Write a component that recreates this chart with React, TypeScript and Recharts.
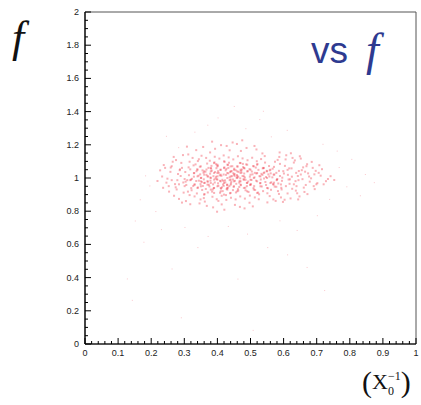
import { ScatterChart, Scatter, XAxis, YAxis, ReferenceArea } from 'recharts'

// X0^-1 (x) vs f (y), hits in the dense core
const coreHits: [number, number][] = [
  [0.41, 1.02], [0.38, 0.97], [0.45, 1.05], [0.5, 0.99], [0.43, 0.93], [0.36, 1.04], [0.47, 0.96], [0.52, 1.03], [0.4, 1.08], [0.44, 0.99],
  [0.39, 0.91], [0.48, 1.01], [0.35, 0.98], [0.53, 0.95], [0.42, 1.06], [0.46, 0.92], [0.37, 1.01], [0.51, 1.07], [0.34, 0.94], [0.49, 1.04],
  [0.43, 1.0], [0.4, 0.95], [0.55, 1.0], [0.33, 1.03], [0.47, 1.09], [0.38, 1.06], [0.52, 0.91], [0.44, 0.96], [0.41, 0.98], [0.36, 0.9],
  [0.56, 0.97], [0.45, 1.02], [0.39, 1.03], [0.48, 0.94], [0.42, 0.9], [0.5, 1.05], [0.35, 1.07], [0.46, 1.0], [0.54, 1.06], [0.37, 0.96],
  [0.43, 1.08], [0.4, 1.01], [0.57, 1.02], [0.32, 0.99], [0.49, 0.97], [0.44, 1.04], [0.51, 0.93], [0.38, 0.93], [0.46, 1.07], [0.41, 0.94],
  [0.53, 1.01], [0.35, 0.95], [0.47, 1.03], [0.42, 0.97], [0.39, 1.09], [0.55, 0.94], [0.44, 0.91], [0.48, 1.06], [0.36, 1.02], [0.5, 0.96],
  [0.43, 1.03], [0.4, 0.99], [0.52, 1.08], [0.34, 1.05], [0.45, 0.95], [0.58, 0.99], [0.38, 1.0], [0.47, 0.98], [0.41, 1.05], [0.49, 0.92],
  [0.37, 0.98], [0.54, 1.03], [0.43, 0.96], [0.46, 1.04], [0.33, 0.96], [0.51, 1.0], [0.4, 1.07], [0.44, 1.01], [0.56, 1.05], [0.39, 0.94],
  [0.48, 0.99], [0.42, 1.1], [0.35, 1.0], [0.53, 0.97], [0.45, 0.98], [0.38, 1.04], [0.5, 1.02], [0.41, 0.92], [0.47, 1.05], [0.36, 0.97],
  [0.44, 1.07], [0.52, 0.98], [0.4, 1.03], [0.57, 0.96], [0.34, 1.01], [0.49, 1.08], [0.43, 0.94], [0.46, 1.01], [0.39, 0.99], [0.55, 1.04],
  [0.412, 1.013], [0.387, 0.962], [0.455, 1.047], [0.503, 0.988], [0.428, 0.934], [0.364, 1.038], [0.471, 0.957], [0.518, 1.027], [0.396, 1.083], [0.447, 0.991],
  [0.384, 0.918], [0.476, 1.012], [0.353, 0.976], [0.534, 0.949], [0.421, 1.064], [0.463, 0.924], [0.372, 1.009], [0.508, 1.072], [0.341, 0.943], [0.492, 1.041],
  [0.437, 1.004], [0.403, 0.953], [0.547, 1.006], [0.329, 1.029], [0.468, 1.091], [0.381, 1.057], [0.523, 0.912], [0.441, 0.967], [0.418, 0.982], [0.361, 0.903],
  [0.563, 0.974], [0.452, 1.024], [0.393, 1.036], [0.484, 0.941], [0.426, 0.897], [0.497, 1.053], [0.347, 1.068], [0.458, 1.002], [0.539, 1.061], [0.374, 0.959],
  [0.432, 1.079], [0.407, 1.016], [0.572, 1.021], [0.318, 0.987], [0.489, 0.971], [0.443, 1.042], [0.514, 0.928], [0.386, 0.931], [0.461, 1.069], [0.414, 0.944],
  [0.527, 1.011], [0.356, 0.952], [0.473, 1.033], [0.424, 0.973], [0.391, 1.094], [0.553, 0.938], [0.438, 0.908], [0.482, 1.058], [0.367, 1.019], [0.501, 0.963],
  [0.433, 1.028], [0.398, 0.993], [0.521, 1.084], [0.339, 1.052], [0.449, 0.947], [0.581, 0.994], [0.379, 1.003], [0.467, 0.981], [0.409, 1.049], [0.494, 0.916],
  [0.371, 0.978], [0.542, 1.034], [0.429, 0.958], [0.464, 1.037], [0.332, 0.961], [0.512, 1.004], [0.401, 1.074], [0.444, 1.011], [0.558, 1.046], [0.389, 0.939],
  [0.479, 0.992], [0.422, 1.098], [0.351, 1.001], [0.529, 0.968], [0.453, 0.983], [0.383, 1.044], [0.506, 1.022], [0.416, 0.921], [0.474, 1.051], [0.362, 0.971],
  [0.445, 1.071], [0.517, 0.984], [0.404, 1.031], [0.568, 0.963], [0.343, 1.014], [0.487, 1.082], [0.431, 0.942], [0.459, 1.018], [0.394, 0.997], [0.549, 1.043],
  [0.415, 0.989], [0.378, 1.026], [0.462, 0.933], [0.498, 1.008], [0.427, 1.055], [0.354, 0.928], [0.536, 1.019], [0.442, 0.977], [0.369, 1.087], [0.511, 0.951],
  [0.402, 0.968], [0.478, 1.066], [0.337, 1.041], [0.456, 0.913], [0.524, 1.049], [0.388, 1.011], [0.435, 1.092], [0.493, 0.979], [0.411, 0.936], [0.557, 1.009],
  [0.376, 0.949], [0.448, 1.029], [0.516, 1.063], [0.423, 0.986], [0.358, 1.032], [0.485, 0.926], [0.397, 1.059], [0.531, 0.991], [0.451, 1.056], [0.408, 0.911],
  [0.469, 0.998], [0.344, 0.984], [0.504, 1.039], [0.436, 0.951], [0.382, 1.073], [0.545, 0.976], [0.419, 1.021], [0.477, 1.085], [0.365, 0.934], [0.499, 0.958],
  [0.439, 1.036], [0.392, 0.973], [0.533, 1.025], [0.457, 0.965], [0.373, 1.061], [0.509, 0.939], [0.425, 1.046], [0.483, 1.003], [0.348, 1.022], [0.466, 0.946],
]

// hits on the shoulders of the core
const shoulderHits: [number, number][] = [
  [0.262, 1.071], [0.274, 0.944], [0.289, 1.012], [0.297, 0.973], [0.303, 1.036], [0.311, 0.918], [0.316, 1.098], [0.323, 0.995], [0.327, 0.952], [0.334, 1.082],
  [0.338, 0.907], [0.344, 1.113], [0.349, 0.963], [0.355, 1.046], [0.359, 0.879], [0.366, 1.121], [0.371, 0.913], [0.377, 1.104], [0.385, 0.887], [0.392, 1.128],
  [0.398, 0.872], [0.406, 1.117], [0.413, 0.893], [0.419, 1.136], [0.427, 0.868], [0.434, 1.124], [0.441, 0.881], [0.448, 1.112], [0.455, 0.871], [0.462, 1.131],
  [0.469, 0.889], [0.476, 1.118], [0.483, 0.876], [0.491, 1.107], [0.498, 0.894], [0.505, 1.122], [0.513, 0.883], [0.519, 1.101], [0.526, 0.902], [0.532, 1.114],
  [0.538, 0.921], [0.544, 1.093], [0.551, 0.908], [0.556, 1.072], [0.562, 0.929], [0.567, 1.056], [0.573, 0.948], [0.578, 1.031], [0.584, 0.967], [0.589, 1.012],
  [0.595, 0.983], [0.601, 1.027], [0.607, 0.951], [0.612, 1.049], [0.619, 0.992], [0.625, 1.008], [0.631, 0.962], [0.638, 1.031], [0.645, 0.987], [0.652, 1.021],
  [0.579, 0.987], [0.566, 1.004], [0.571, 0.972], [0.561, 1.028], [0.586, 1.043], [0.593, 0.941], [0.547, 0.958], [0.554, 1.022], [0.541, 0.997], [0.537, 1.058],
  [0.293, 1.061], [0.306, 0.958], [0.314, 1.017], [0.321, 0.939], [0.329, 1.008], [0.336, 0.982], [0.301, 0.994], [0.284, 0.962], [0.318, 1.052], [0.309, 0.987],
  [0.419, 0.953], [0.437, 0.987], [0.452, 1.013], [0.466, 0.972], [0.481, 1.027], [0.396, 1.007], [0.408, 0.983], [0.426, 1.019], [0.471, 1.043], [0.489, 0.951],
  [0.402, 1.041], [0.417, 0.961], [0.433, 1.061], [0.447, 0.927], [0.463, 1.008], [0.485, 0.989], [0.379, 0.984], [0.367, 1.051], [0.359, 0.992], [0.513, 1.031],
]

// looser hits around the core
const haloHits: [number, number][] = [
  [0.262, 0.987], [0.287, 1.052], [0.618, 0.965], [0.643, 1.012], [0.298, 0.912], [0.604, 1.073], [0.275, 1.108], [0.661, 0.942], [0.312, 1.142], [0.592, 0.883],
  [0.253, 0.951], [0.683, 0.998], [0.305, 0.861], [0.627, 1.121], [0.281, 1.024], [0.655, 1.047], [0.318, 0.842], [0.588, 1.154], [0.242, 1.061], [0.702, 0.969],
  [0.336, 1.168], [0.612, 0.907], [0.269, 0.893], [0.674, 1.028], [0.325, 1.121], [0.598, 0.856], [0.233, 1.009], [0.691, 0.951], [0.357, 1.187], [0.637, 0.924],
  [0.291, 1.091], [0.669, 1.071], [0.346, 0.847], [0.582, 1.109], [0.258, 1.037], [0.712, 1.014], [0.368, 0.832], [0.624, 1.058], [0.304, 0.978], [0.648, 0.889],
  [0.393, 1.176], [0.576, 0.862], [0.277, 0.931], [0.697, 1.043], [0.413, 0.841], [0.608, 1.137], [0.246, 0.972], [0.663, 0.916], [0.428, 1.193], [0.594, 0.931],
  [0.313, 1.064], [0.679, 0.978], [0.453, 0.838], [0.631, 1.093], [0.284, 0.874], [0.721, 0.962], [0.471, 1.163], [0.586, 0.904], [0.227, 1.046], [0.652, 1.117],
  [0.497, 0.851], [0.615, 0.991], [0.296, 1.138], [0.688, 1.061], [0.518, 1.172], [0.569, 0.871], [0.265, 1.098], [0.734, 0.994], [0.387, 0.823], [0.639, 0.951],
  [0.331, 0.889], [0.671, 1.083], [0.446, 1.214], [0.599, 1.041], [0.254, 0.918], [0.706, 1.031], [0.482, 0.817], [0.621, 0.877], [0.308, 1.189], [0.657, 0.993],
  [0.403, 0.862], [0.587, 1.127], [0.272, 0.963], [0.694, 0.933], [0.536, 1.148], [0.613, 1.019], [0.349, 0.871], [0.646, 1.042], [0.459, 1.205], [0.578, 0.947],
  [0.238, 1.078], [0.716, 1.053], [0.507, 0.829], [0.634, 1.106], [0.322, 0.926], [0.667, 0.958], [0.378, 1.154], [0.603, 0.869], [0.286, 1.047], [0.742, 1.011],
  [0.421, 0.809], [0.589, 1.085], [0.249, 0.996], [0.685, 1.097], [0.551, 0.853], [0.626, 0.935], [0.341, 1.102], [0.659, 1.064], [0.488, 1.181], [0.571, 1.067],
  [0.301, 0.951], [0.728, 0.981], [0.362, 0.858], [0.641, 0.908], [0.437, 1.167], [0.596, 1.002], [0.268, 1.127], [0.677, 1.009], [0.525, 0.872], [0.617, 1.058],
  [0.219, 0.982], [0.699, 0.962], [0.411, 1.198], [0.583, 0.921], [0.293, 0.852], [0.649, 1.131], [0.468, 0.826], [0.606, 1.112], [0.328, 1.076], [0.753, 0.988],
  [0.384, 1.219], [0.636, 0.981], [0.259, 1.063], [0.672, 0.903], [0.543, 1.132], [0.592, 0.961], [0.316, 0.897], [0.708, 1.077], [0.475, 1.227], [0.558, 0.891],
  [0.236, 0.941], [0.665, 1.038], [0.399, 0.797], [0.622, 1.149], [0.279, 0.987], [0.693, 1.022], [0.512, 1.193], [0.574, 1.098], [0.352, 1.134], [0.644, 0.871],
]

// sparse stray hits far from the core
const strayHits: [number, number][] = [
  [0.152, 0.741], [0.178, 0.613], [0.214, 0.798], [0.196, 0.952], [0.128, 0.392], [0.231, 0.689], [0.263, 0.452], [0.302, 0.702], [0.341, 0.581], [0.372, 0.648],
  [0.402, 1.362], [0.451, 1.431], [0.486, 1.297], [0.371, 1.318], [0.332, 1.276], [0.528, 1.352], [0.563, 1.248], [0.611, 1.287], [0.589, 0.742], [0.641, 0.684],
  [0.702, 0.773], [0.739, 0.871], [0.768, 1.063], [0.791, 0.947], [0.806, 1.112], [0.832, 0.893], [0.847, 1.021], [0.874, 0.972], [0.762, 1.162], [0.719, 1.203],
  [0.433, 0.708], [0.491, 0.662], [0.552, 0.581], [0.612, 0.537], [0.183, 1.013], [0.167, 0.869], [0.143, 0.263], [0.291, 0.158], [0.508, 0.082], [0.462, 0.391],
  [0.724, 0.322], [0.671, 0.461], [0.539, 1.402], [0.283, 1.183], [0.246, 1.251],
]

const xTicks = Array.from({ length: 51 }, (_, i) => +(i * 0.02).toFixed(2))
const yTicks = Array.from({ length: 41 }, (_, i) => +(i * 0.05).toFixed(2))

const mainHits = [...coreHits, ...shoulderHits, ...haloHits].map(([x, y]) => ({ x, y }))
const sparseHits = strayHits.map(([x, y]) => ({ x, y }))

const tickFont = { fontFamily: 'Liberation Sans, Arial, sans-serif', fontSize: 9, fill: '#222' }

// eslint-disable-next-line @typescript-eslint/no-explicit-any
function XTick({ x, y, payload }: any) {
  const v = payload.value
  const major = Math.abs(v * 10 - Math.round(v * 10)) < 1e-6
  return (
    <g>
      <line x1={x} x2={x} y1={y} y2={y - (major ? 6 : 3)} stroke="#000" />
      {major && (
        <text x={x} y={y + 12} textAnchor="middle" {...tickFont}>
          {Number(v.toFixed(1))}
        </text>
      )}
    </g>
  )
}

// eslint-disable-next-line @typescript-eslint/no-explicit-any
function YTick({ x, y, payload }: any) {
  const v = payload.value
  const major = Math.abs(v * 5 - Math.round(v * 5)) < 1e-6
  return (
    <g>
      <line x1={x} x2={x + (major ? 6 : 3)} y1={y} y2={y} stroke="#000" />
      {major && (
        <text x={x - 6} y={y + 3} textAnchor="end" {...tickFont}>
          {Number(v.toFixed(1))}
        </text>
      )}
    </g>
  )
}

// eslint-disable-next-line @typescript-eslint/no-explicit-any
function Dot({ cx, cy }: any) {
  return <rect x={cx - 1} y={cy - 1} width={2} height={2} fill="#f03848" fillOpacity={0.38} />
}

// eslint-disable-next-line @typescript-eslint/no-explicit-any
function FaintDot({ cx, cy }: any) {
  return <rect x={cx - 0.5} y={cy - 0.5} width={1} height={1} fill="#f06070" fillOpacity={0.35} />
}

export default function App() {
  return (
    <div style={{ position: 'absolute', left: 0, top: 0, width: 421, height: 405, background: '#fff' }}>
      <ScatterChart width={421} height={405} margin={{ top: 12, right: 5, left: 0, bottom: 0 }}>
        <XAxis
          type="number"
          dataKey="x"
          domain={[0, 1]}
          ticks={xTicks}
          interval={0}
          height={61}
          tickSize={0}
          tickMargin={0}
          tick={<XTick />}
          axisLine={{ stroke: '#000', strokeWidth: 1.2 }}
          tickLine={false}
        />
        <YAxis
          type="number"
          dataKey="y"
          domain={[0, 2]}
          ticks={yTicks}
          interval={0}
          width={85}
          tickSize={0}
          tickMargin={0}
          tick={<YTick />}
          axisLine={{ stroke: '#000', strokeWidth: 1.2 }}
          tickLine={false}
        />
        <ReferenceArea x1={0} x2={1} y1={0} y2={2} fill="none" stroke="#555" strokeWidth={1} />
        <Scatter data={mainHits} shape={<Dot />} isAnimationActive={false} />
        <Scatter data={sparseHits} shape={<FaintDot />} isAnimationActive={false} />
      </ScatterChart>
      <svg width={421} height={405} style={{ position: 'absolute', left: 0, top: 0, pointerEvents: 'none' }}>
        <text x={12} y={52} fontFamily="Liberation Serif, serif" fontStyle="italic" fontSize={44} fill="#111">
          f
        </text>
        <text x={311} y={63} fontFamily="Liberation Sans, Arial, sans-serif" fontSize={37} fill="#2e3a90">
          vs
        </text>
        <text x={366} y={65} fontFamily="Liberation Serif, serif" fontStyle="italic" fontSize={46} fill="#2e3a90">
          f
        </text>
        <text x={362} y={392} fontFamily="Liberation Serif, serif" fill="#111">
          <tspan fontSize={30}>(</tspan>
          <tspan fontSize={22} dy={-3}>X</tspan>
          <tspan fontSize={12} dy={6}>0</tspan>
          <tspan fontSize={12} dx={-6} dy={-15}>−1</tspan>
          <tspan fontSize={30} dy={12}>)</tspan>
        </text>
      </svg>
    </div>
  )
}
